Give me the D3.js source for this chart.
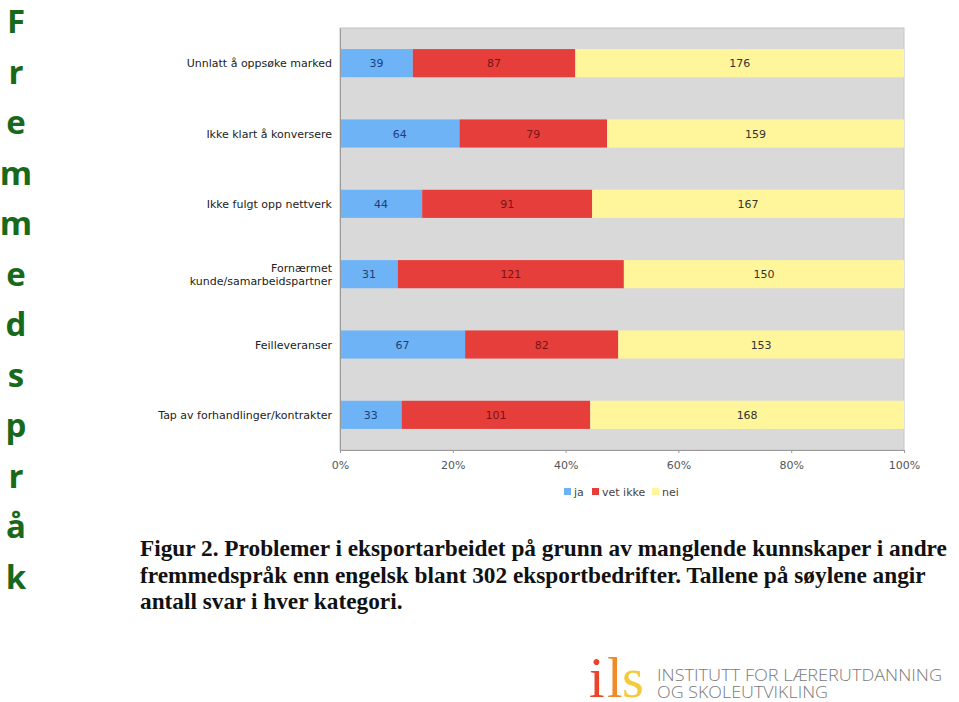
<!DOCTYPE html>
<html>
<head>
<meta charset="utf-8">
<script src="https://cdn.jsdelivr.net/npm/d3@7"></script>
<style>
  body { margin: 0; background: #fff; }
  svg { display: block; }
</style>
</head>
<body>
<script>
// data
var categories = [
  "Unnlatt å oppsøke marked",
  "Ikke klart å konversere",
  "Ikke fulgt opp nettverk",
  "Fornærmet kunde/samarbeidspartner",
  "Feilleveranser",
  "Tap av forhandlinger/kontrakter"
];
var ja      = [39, 64, 44, 31, 67, 33];
var vetIkke = [87, 79, 91, 121, 82, 101];
var nei     = [176, 159, 167, 150, 153, 168];
var seriesNames = ["ja", "vet ikke", "nei"];
var xTicks = [0, 0.2, 0.4, 0.6, 0.8, 1];
var sideWord = "Fremmedspråk";
var captionLines = [
  "Figur 2. Problemer i eksportarbeidet på grunn av manglende kunnskaper i andre",
  "fremmedspråk enn engelsk blant 302 eksportbedrifter. Tallene på søylene angir",
  "antall svar i hver kategori."
];

var colors = ["#6db3f6", "#e63e3b", "#fff59b"];
var textColors = ["#1d3f78", "#7a1414", "#333"];
var labelFont = "'DejaVu Sans', Verdana, sans-serif";

var svgWidth = 959;
var svgHeight = 702;

var svg = d3.select("body")
  .append("svg")
  .attr("width", svgWidth)
  .attr("height", svgHeight);

// vertical green word on the left
svg.append("g")
  .selectAll("text")
  .data(sideWord.split(""))
  .enter()
  .append("text")
  .attr("x", 16)
  .attr("y", (d, i) => 33 + i * 50.5)
  .attr("text-anchor", "middle")
  .style("font-family", "'Open Sans', sans-serif")
  .style("font-weight", "bold")
  .style("font-size", "33px")
  .style("fill", "#19691a")
  .text(d => d);

// chart area
var plot = { left: 340, right: 904, top: 28, bottom: 450 };

var xscale = d3.scaleLinear()
  .domain([0, 1])
  .range([plot.left, plot.right]);

var yscale = d3.scaleBand()
  .domain(categories)
  .range([plot.top, plot.bottom])
  .paddingInner(0.6)
  .paddingOuter(0.3);

var rows = categories.map(function(c, i) {
  return { cat: c, ja: ja[i], "vet ikke": vetIkke[i], nei: nei[i] };
});
rows.forEach(function(r) {
  r.total = r.ja + r["vet ikke"] + r.nei;
});

var stack = d3.stack()
  .keys(seriesNames)
  .value((d, key) => d[key] / d.total);
var stacked = stack(rows);

svg.append("rect")
  .attr("x", plot.left)
  .attr("y", plot.top)
  .attr("width", plot.right - plot.left)
  .attr("height", plot.bottom - plot.top)
  .attr("fill", "#d9d9d9")
  .attr("stroke", "#c4c4c4")
  .attr("stroke-width", 1);

var layers = svg.append("g")
  .selectAll("g")
  .data(stacked)
  .enter()
  .append("g");

layers.selectAll("rect")
  .data(d => d.map(p => ({ p: p, idx: d.index })))
  .enter()
  .append("rect")
  .attr("x", d => xscale(d.p[0]))
  .attr("y", d => yscale(d.p.data.cat))
  .attr("width", d => xscale(d.p[1]) - xscale(d.p[0]))
  .attr("height", yscale.bandwidth())
  .attr("fill", d => colors[d.idx]);

layers.selectAll("text")
  .data(d => d.map(p => ({ p: p, key: d.key, idx: d.index })))
  .enter()
  .append("text")
  .attr("x", d => (xscale(d.p[0]) + xscale(d.p[1])) / 2)
  .attr("y", d => yscale(d.p.data.cat) + yscale.bandwidth() / 2 + 4)
  .attr("text-anchor", "middle")
  .style("font-family", labelFont)
  .style("font-size", "11px")
  .style("fill", d => textColors[d.idx])
  .text(d => d.p.data[d.key]);

// axes
var bottomAxis = d3.axisBottom(xscale)
  .tickValues(xTicks)
  .tickFormat(d3.format(".0%"))
  .tickSize(3);
var gx = svg.append("g")
  .attr("transform", `translate(0, ${plot.bottom})`)
  .call(bottomAxis);
gx.select(".domain").attr("stroke", "#9a9a9a");
gx.selectAll(".tick line").attr("stroke", "#9a9a9a");
gx.selectAll(".tick text")
  .attr("dy", "1.2em")
  .style("font-family", labelFont)
  .style("font-size", "11px")
  .style("fill", "#555");

var leftAxis = d3.axisLeft(yscale).tickSize(0).tickFormat("");
var gy = svg.append("g")
  .attr("transform", `translate(${plot.left}, 0)`)
  .call(leftAxis);
gy.select(".domain").attr("stroke", "#9a9a9a");

// category labels, long one split in two lines
var catLabels = svg.append("g")
  .selectAll("text")
  .data(categories)
  .enter()
  .append("text")
  .attr("text-anchor", "end")
  .style("font-family", labelFont)
  .style("font-size", "11px")
  .style("fill", "#222");

catLabels.each(function(d) {
  var t = d3.select(this);
  var yc = yscale(d) + yscale.bandwidth() / 2;
  var parts = d.length > 32 ? d.split(" ") : [d];
  parts.forEach(function(p, j) {
    t.append("tspan")
      .attr("x", 332)
      .attr("y", yc + 4 + (j - (parts.length - 1) / 2) * 13)
      .text(p);
  });
});

// legend
var legend = svg.append("g")
  .attr("transform", "translate(564, 488)");
var legendX = [0, 28, 88];
seriesNames.forEach(function(name, i) {
  legend.append("rect")
    .attr("x", legendX[i])
    .attr("y", 0)
    .attr("width", 7)
    .attr("height", 7)
    .attr("fill", colors[i]);
  legend.append("text")
    .attr("x", legendX[i] + 10)
    .attr("y", 8)
    .style("font-family", labelFont)
    .style("font-size", "11px")
    .style("fill", "#444")
    .text(name);
});

// caption
svg.append("g")
  .selectAll("text")
  .data(captionLines)
  .enter()
  .append("text")
  .attr("x", 140)
  .attr("y", (d, i) => 556 + i * 26.5)
  .style("font-family", "'Liberation Serif', 'Times New Roman', serif")
  .style("font-weight", "bold")
  .style("font-size", "23.3px")
  .style("fill", "#111")
  .text(d => d);

// logo
var logo = svg.append("g");
var logoLetters = [
  { t: "i", x: 589, c: "#e8452a" },
  { t: "l", x: 607, c: "#f08a2a" },
  { t: "s", x: 622, c: "#f5c93a" }
];
logo.selectAll("text.lg")
  .data(logoLetters)
  .enter()
  .append("text")
  .attr("class", "lg")
  .attr("x", d => d.x)
  .attr("y", 697)
  .style("font-family", "'Liberation Serif', serif")
  .style("font-size", "56px")
  .style("fill", d => d.c)
  .text(d => d.t);

logo.append("text")
  .attr("x", 657)
  .attr("y", 681)
  .attr("textLength", 285)
  .attr("lengthAdjust", "spacingAndGlyphs")
  .style("font-family", "'Open Sans', sans-serif")
  .style("font-size", "17px")
  .style("font-weight", "300")
  .style("fill", "#7a7a7a")
  .text("INSTITUTT FOR LÆRERUTDANNING");
logo.append("text")
  .attr("x", 657)
  .attr("y", 698)
  .attr("textLength", 171)
  .attr("lengthAdjust", "spacingAndGlyphs")
  .style("font-family", "'Open Sans', sans-serif")
  .style("font-size", "17px")
  .style("font-weight", "300")
  .style("fill", "#7a7a7a")
  .text("OG SKOLEUTVIKLING");
</script>
</body>
</html>
